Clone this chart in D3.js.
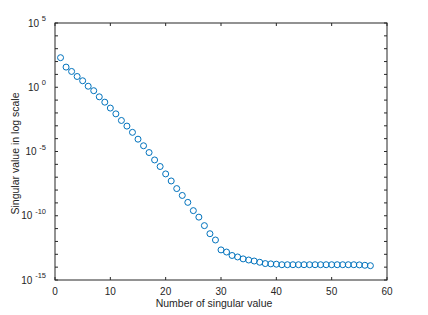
<!DOCTYPE html>
<html>
<head>
<meta charset="utf-8">
<script src="https://cdn.jsdelivr.net/npm/d3@7"></script>
<style>
  body { margin: 0; background: #fff; }
  svg text { font-family: "Liberation Sans", Arial, sans-serif; fill: #262626; }
</style>
</head>
<body>
<div id="chart"></div>
<script>
// singular value index and the values
const indices = [1, 2, 3, 4, 5, 6, 7, 8, 9, 10, 11, 12, 13, 14, 15, 16, 17, 18, 19, 20,
    21, 22, 23, 24, 25, 26, 27, 28, 29, 30, 31, 32, 33, 34, 35, 36, 37, 38, 39, 40,
    41, 42, 43, 44, 45, 46, 47, 48, 49, 50, 51, 52, 53, 54, 55, 56, 57];
const singularValues = [2.0e2, 3.7e1, 1.7e1, 6.9, 3.2, 1.2, 5.4e-1, 1.8e-1, 6.9e-2, 2.4e-2,
    8.5e-3, 2.6e-3, 9.5e-4, 3.1e-4, 9.1e-5, 2.8e-5, 8.3e-6, 2.2e-6, 6.8e-7, 1.8e-7,
    5.1e-8, 1.3e-8, 3.8e-9, 1.1e-9, 2.5e-10, 7.8e-11, 1.7e-11, 4.0e-12, 1.3e-12, 2.2e-13,
    1.5e-13, 8.1e-14, 6.2e-14, 4.4e-14, 3.6e-14, 3.0e-14, 2.4e-14, 1.9e-14, 1.8e-14, 1.7e-14,
    1.55e-14, 1.55e-14, 1.55e-14, 1.55e-14, 1.55e-14, 1.55e-14, 1.55e-14, 1.55e-14, 1.55e-14, 1.55e-14,
    1.55e-14, 1.55e-14, 1.55e-14, 1.55e-14, 1.5e-14, 1.4e-14, 1.3e-14];
const xTicks = [0, 10, 20, 30, 40, 50, 60];
const yTickExponents = [5, 0, -5, -10, -15];
const yMinorExponents = d3.range(-15, 6);

const margin = { top: 23, right: 41, bottom: 35, left: 55 };
const width = 428 - margin.left - margin.right;
const height = 315 - margin.top - margin.bottom;
const axisColor = "#262626";

const svg = d3.select("#chart")
    .append("svg")
    .attr("width", 428)
    .attr("height", 315);

const g = svg.append("g")
    .attr("transform", `translate(${margin.left},${margin.top})`);

const x = d3.scaleLinear().domain([0, 60]).range([0, width]);
const y = d3.scaleLog().domain([1e-15, 1e5]).range([height, 0]);

// box
g.append("rect")
    .attr("width", width)
    .attr("height", height)
    .attr("fill", "none")
    .attr("stroke", axisColor)
    .attr("stroke-width", 1);

// x ticks (inward, bottom and top)
const tickLen = 3;
xTicks.forEach(t => {
    g.append("line")
        .attr("x1", x(t)).attr("x2", x(t))
        .attr("y1", height).attr("y2", height - tickLen)
        .attr("stroke", axisColor);
    g.append("line")
        .attr("x1", x(t)).attr("x2", x(t))
        .attr("y1", 0).attr("y2", tickLen)
        .attr("stroke", axisColor);
    g.append("text")
        .attr("x", x(t))
        .attr("y", height + 15)
        .attr("text-anchor", "middle")
        .style("font-size", "10px")
        .text(t);
});

// y ticks at every decade, both sides
yMinorExponents.forEach(e => {
    const v = Math.pow(10, e);
    g.append("line")
        .attr("x1", 0).attr("x2", tickLen)
        .attr("y1", y(v)).attr("y2", y(v))
        .attr("stroke", axisColor);
    g.append("line")
        .attr("x1", width).attr("x2", width - tickLen)
        .attr("y1", y(v)).attr("y2", y(v))
        .attr("stroke", axisColor);
});

// y tick labels like 10^-5
yTickExponents.forEach(e => {
    const label = g.append("text")
        .attr("x", -9)
        .attr("y", y(Math.pow(10, e)) + 3.5)
        .attr("text-anchor", "end")
        .style("font-size", "10px");
    label.append("tspan").text("10 ");
    label.append("tspan")
        .attr("dy", -5.5)
        .style("font-size", "7.5px")
        .text(String(e));
});

// data markers
g.selectAll("circle.pt")
    .data(indices.map((d, i) => ({ n: d, v: singularValues[i] })))
    .enter()
    .append("circle")
    .attr("class", "pt")
    .attr("cx", d => x(d.n))
    .attr("cy", d => y(d.v))
    .attr("r", 3)
    .attr("fill", "none")
    .attr("stroke", "#0072BD")
    .attr("stroke-width", 1);

// axis labels
svg.append("text")
    .attr("x", margin.left + width / 2 - 7)
    .attr("y", 307)
    .attr("text-anchor", "middle")
    .style("font-size", "10.5px")
    .text("Number of singular value");

svg.append("text")
    .attr("transform", `translate(19,${margin.top + height / 2 + 2}) rotate(-90)`)
    .attr("text-anchor", "middle")
    .style("font-size", "10.5px")
    .text("Singular value in log scale");
</script>
</body>
</html>
